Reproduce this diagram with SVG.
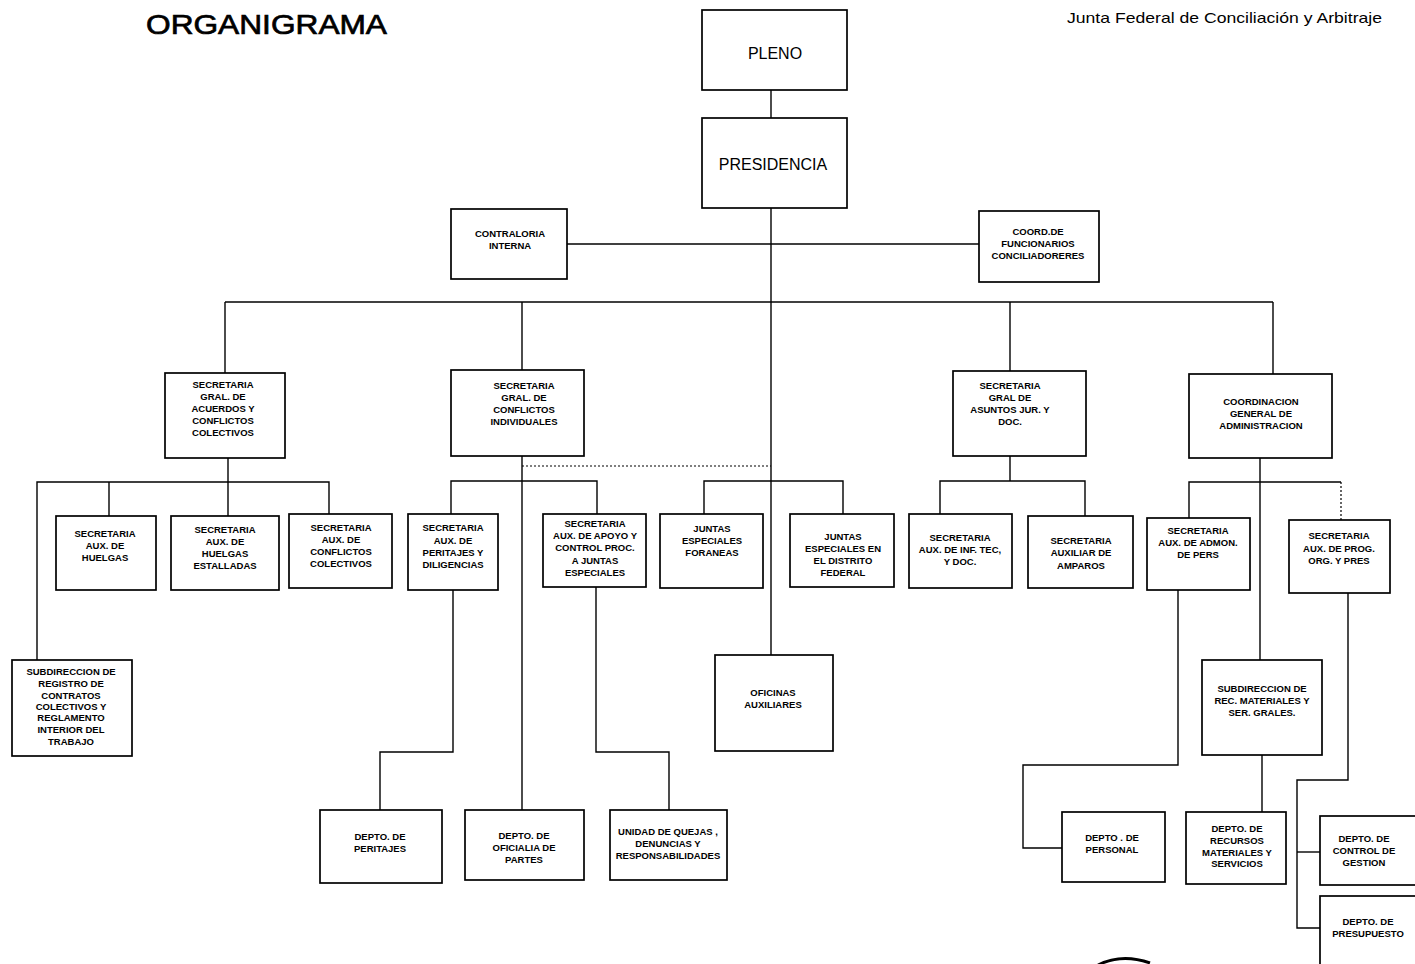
<svg xmlns="http://www.w3.org/2000/svg" width="1415" height="964" viewBox="0 0 1415 964">
<style>
.bx{fill:#fff;stroke:#000;stroke-width:1.7}
.ln{fill:none;stroke:#000;stroke-width:1.4}
.dt{fill:none;stroke:#000;stroke-width:1.2;stroke-dasharray:2 2}
.t{font-family:"Liberation Sans",Arial,sans-serif;font-size:9.5px;font-weight:bold;text-anchor:middle;fill:#000}
.tb{font-family:"Liberation Sans",Arial,sans-serif;font-size:16px;text-anchor:middle;fill:#000}
.hd{font-family:"Liberation Sans",Arial,sans-serif;fill:#000}
</style>
<rect width="1415" height="964" fill="#fff"/>
<text class="hd" x="146" y="34" font-size="28" stroke="#000" stroke-width="0.7" textLength="241" lengthAdjust="spacingAndGlyphs">ORGANIGRAMA</text>
<text class="hd" x="1067" y="23" font-size="15" textLength="315" lengthAdjust="spacingAndGlyphs">Junta Federal de Conciliación y Arbitraje</text>

<g id="connectors">
<path class="ln" d="M771,90 V118"/>
<path class="ln" d="M771,208 V655"/>
<path class="ln" d="M567,244 H979"/>
<path class="ln" d="M225,302 H1273"/>
<path class="ln" d="M225,302 V373"/>
<path class="ln" d="M522,302 V370"/>
<path class="ln" d="M1010,302 V371"/>
<path class="ln" d="M1273,302 V374"/>
<path class="ln" d="M228,458 V482"/>
<path class="ln" d="M37,660 V482 H329 V514"/>
<path class="ln" d="M109,482 V516"/>
<path class="ln" d="M228,482 V516"/>
<path class="ln" d="M522,456 V810"/>
<path class="dt" d="M522,466 H771"/>
<path class="ln" d="M451,514 V481 H597 V514"/>
<path class="ln" d="M704,514 V481 H843 V514"/>
<path class="ln" d="M453,590 V752 H380 V810"/>
<path class="ln" d="M596,587 V752 H669 V810"/>
<path class="ln" d="M1010,456 V481"/>
<path class="ln" d="M940,514 V481 H1085 V516"/>
<path class="ln" d="M1260,458 V660"/>
<path class="ln" d="M1189,518 V482 H1341"/>
<path class="dt" d="M1341,482 V520"/>
<path class="ln" d="M1178,590 V765 H1023 V848 H1062"/>
<path class="ln" d="M1262,755 V812"/>
<path class="ln" d="M1348,593 V780 H1297 V928 H1320"/>
<path class="ln" d="M1297,852 H1320"/>
</g>

<g id="pleno"><rect class="bx" x="702" y="10" width="145" height="80"/><text class="tb" x="775" y="59">PLENO</text></g>
<g id="presidencia"><rect class="bx" x="702" y="118" width="145" height="90"/><text class="tb" x="773" y="170">PRESIDENCIA</text></g>

<g id="contraloria"><rect class="bx" x="451" y="209" width="116" height="70"/>
<text class="t" x="510" y="237">CONTRALORIA</text><text class="t" x="510" y="249">INTERNA</text></g>

<g id="coord-func"><rect class="bx" x="979" y="211" width="120" height="71" stroke-width="2.3"/>
<text class="t" x="1038" y="235">COORD.DE</text><text class="t" x="1038" y="247">FUNCIONARIOS</text><text class="t" x="1038" y="259">CONCILIADORERES</text></g>

<g id="sec-gral-acuerdos"><rect class="bx" x="165" y="373" width="120" height="85"/>
<text class="t" x="223" y="388">SECRETARIA</text><text class="t" x="223" y="400">GRAL. DE</text><text class="t" x="223" y="412">ACUERDOS Y</text><text class="t" x="223" y="424">CONFLICTOS</text><text class="t" x="223" y="436">COLECTIVOS</text></g>

<g id="sec-gral-individuales"><rect class="bx" x="451" y="370" width="133" height="86"/>
<text class="t" x="524" y="389">SECRETARIA</text><text class="t" x="524" y="401">GRAL. DE</text><text class="t" x="524" y="413">CONFLICTOS</text><text class="t" x="524" y="425">INDIVIDUALES</text></g>

<g id="sec-gral-asuntos"><rect class="bx" x="953" y="371" width="133" height="85"/>
<text class="t" x="1010" y="389">SECRETARIA</text><text class="t" x="1010" y="401">GRAL DE</text><text class="t" x="1010" y="413">ASUNTOS JUR. Y</text><text class="t" x="1010" y="425">DOC.</text></g>

<g id="coord-admin"><rect class="bx" x="1189" y="374" width="143" height="84"/>
<text class="t" x="1261" y="405">COORDINACION</text><text class="t" x="1261" y="417">GENERAL DE</text><text class="t" x="1261" y="429">ADMINISTRACION</text></g>

<g id="sec-aux-huelgas"><rect class="bx" x="56" y="516" width="100" height="74"/>
<text class="t" x="105" y="537">SECRETARIA</text><text class="t" x="105" y="549">AUX. DE</text><text class="t" x="105" y="561">HUELGAS</text></g>

<g id="sec-aux-estalladas"><rect class="bx" x="171" y="516" width="108" height="74"/>
<text class="t" x="225" y="533">SECRETARIA</text><text class="t" x="225" y="545">AUX. DE</text><text class="t" x="225" y="557">HUELGAS</text><text class="t" x="225" y="569">ESTALLADAS</text></g>

<g id="sec-aux-colectivos"><rect class="bx" x="289" y="514" width="103" height="74"/>
<text class="t" x="341" y="531">SECRETARIA</text><text class="t" x="341" y="543">AUX. DE</text><text class="t" x="341" y="555">CONFLICTOS</text><text class="t" x="341" y="567">COLECTIVOS</text></g>

<g id="subdir-registro"><rect class="bx" x="12" y="660" width="120" height="96"/>
<text class="t" x="71" y="675">SUBDIRECCION DE</text><text class="t" x="71" y="687">REGISTRO DE</text><text class="t" x="71" y="699">CONTRATOS</text><text class="t" x="71" y="710">COLECTIVOS Y</text><text class="t" x="71" y="721">REGLAMENTO</text><text class="t" x="71" y="733">INTERIOR DEL</text><text class="t" x="71" y="745">TRABAJO</text></g>

<g id="sec-aux-peritajes"><rect class="bx" x="408" y="514" width="90" height="76"/>
<text class="t" x="453" y="531">SECRETARIA</text><text class="t" x="453" y="544">AUX. DE</text><text class="t" x="453" y="556">PERITAJES Y</text><text class="t" x="453" y="568">DILIGENCIAS</text></g>

<g id="sec-aux-apoyo"><rect class="bx" x="543" y="514" width="103" height="73"/>
<text class="t" x="595" y="527">SECRETARIA</text><text class="t" x="595" y="539">AUX. DE APOYO Y</text><text class="t" x="595" y="551">CONTROL PROC.</text><text class="t" x="595" y="564">A JUNTAS</text><text class="t" x="595" y="576">ESPECIALES</text></g>

<g id="juntas-foraneas"><rect class="bx" x="660" y="514" width="103" height="74"/>
<text class="t" x="712" y="532">JUNTAS</text><text class="t" x="712" y="544">ESPECIALES</text><text class="t" x="712" y="556">FORANEAS</text></g>

<g id="juntas-df"><rect class="bx" x="790" y="514" width="104" height="73"/>
<text class="t" x="843" y="540">JUNTAS</text><text class="t" x="843" y="552">ESPECIALES EN</text><text class="t" x="843" y="564">EL DISTRITO</text><text class="t" x="843" y="576">FEDERAL</text></g>

<g id="oficinas-aux"><rect class="bx" x="715" y="655" width="118" height="96"/>
<text class="t" x="773" y="696">OFICINAS</text><text class="t" x="773" y="708">AUXILIARES</text></g>

<g id="sec-aux-inf"><rect class="bx" x="909" y="514" width="103" height="74"/>
<text class="t" x="960" y="541">SECRETARIA</text><text class="t" x="960" y="553">AUX. DE INF. TEC,</text><text class="t" x="960" y="565">Y DOC.</text></g>

<g id="sec-aux-amparos"><rect class="bx" x="1028" y="516" width="105" height="72"/>
<text class="t" x="1081" y="544">SECRETARIA</text><text class="t" x="1081" y="556">AUXILIAR DE</text><text class="t" x="1081" y="569">AMPAROS</text></g>

<g id="sec-aux-admon"><rect class="bx" x="1147" y="518" width="103" height="72"/>
<text class="t" x="1198" y="534">SECRETARIA</text><text class="t" x="1198" y="546">AUX. DE ADMON.</text><text class="t" x="1198" y="558">DE PERS</text></g>

<g id="sec-aux-prog"><rect class="bx" x="1289" y="520" width="101" height="73"/>
<text class="t" x="1339" y="539">SECRETARIA</text><text class="t" x="1339" y="552">AUX. DE PROG.</text><text class="t" x="1339" y="564">ORG.  Y PRES</text></g>

<g id="subdir-materiales"><rect class="bx" x="1202" y="660" width="120" height="95"/>
<text class="t" x="1262" y="692">SUBDIRECCION DE</text><text class="t" x="1262" y="704">REC. MATERIALES Y</text><text class="t" x="1262" y="716">SER. GRALES.</text></g>

<g id="depto-peritajes"><rect class="bx" x="320" y="810" width="122" height="73"/>
<text class="t" x="380" y="840">DEPTO. DE</text><text class="t" x="380" y="852">PERITAJES</text></g>

<g id="depto-oficialia"><rect class="bx" x="465" y="810" width="119" height="70"/>
<text class="t" x="524" y="839">DEPTO. DE</text><text class="t" x="524" y="851">OFICIALIA DE</text><text class="t" x="524" y="863">PARTES</text></g>

<g id="unidad-quejas"><rect class="bx" x="610" y="810" width="117" height="70"/>
<text class="t" x="668" y="835">UNIDAD DE QUEJAS ,</text><text class="t" x="668" y="847">DENUNCIAS  Y</text><text class="t" x="668" y="859">RESPONSABILIDADES</text></g>

<g id="depto-personal"><rect class="bx" x="1062" y="812" width="103" height="70"/>
<text class="t" x="1112" y="841">DEPTO . DE</text><text class="t" x="1112" y="853">PERSONAL</text></g>

<g id="depto-recursos"><rect class="bx" x="1186" y="812" width="100" height="72"/>
<text class="t" x="1237" y="832">DEPTO. DE</text><text class="t" x="1237" y="844">RECURSOS</text><text class="t" x="1237" y="856">MATERIALES Y</text><text class="t" x="1237" y="867">SERVICIOS</text></g>

<g id="depto-control"><rect class="bx" x="1320" y="816" width="100" height="69"/>
<text class="t" x="1364" y="842">DEPTO. DE</text><text class="t" x="1364" y="854">CONTROL DE</text><text class="t" x="1364" y="866">GESTION</text></g>

<g id="depto-presupuesto"><rect class="bx" x="1320" y="896" width="100" height="75"/>
<text class="t" x="1368" y="925">DEPTO. DE</text><text class="t" x="1368" y="937">PRESUPUESTO</text></g>

<path d="M1098,965 Q1122,953 1150,963" fill="none" stroke="#000" stroke-width="3"/>
</svg>
